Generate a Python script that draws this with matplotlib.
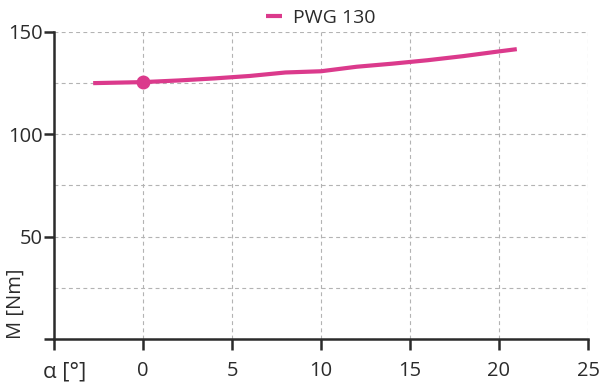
import numpy as np
import matplotlib.pyplot as plt

plt.rcParams['font.family'] = ['Open Sans', 'DejaVu Sans']

# PWG 130 torque curve
alpha = [-2.8, 0, 2, 4, 6, 8, 10, 12, 14, 16, 18, 20, 21]
torque = [125.0, 125.5, 126.3, 127.3, 128.5, 130.2, 130.8, 133.0, 134.5, 136.2, 138.2, 140.5, 141.6]
marker_x = [0]
marker_y = [125.5]
series_name = 'PWG 130'

pink = '#DB3A8C'
dark = '#2b2b2b'

fig = plt.figure(figsize=(6, 3.85), dpi=100)
ax = fig.add_axes([0.09, 0.1195, 0.89, 0.7975])

ax.plot(alpha, torque, color=pink, lw=3, solid_capstyle='butt', label=series_name)
ax.plot(marker_x, marker_y, 'o', color=pink, ms=9)

ax.set_xlim(-5, 25)
ax.set_ylim(0, 150)
ax.set_xticks([-5, 0, 5, 10, 15, 20, 25])
ax.set_xticklabels(['', '0', '5', '10', '15', '20', '25'])
ax.set_yticks([0, 50, 100, 150])
ax.set_yticklabels(['', '50', '100', '150'])
ax.set_yticks([25, 75, 125], minor=True)
ax.tick_params(axis='y', which='minor', length=0)

ax.grid(True, which='both', ls=(0, (3.5, 3)), color='#b3b3b3', lw=0.8)
ax.grid(False, axis='x', which='minor')
ax.set_axisbelow(True)

for s in ['top', 'right']:
    ax.spines[s].set_visible(False)
for s in ['left', 'bottom']:
    ax.spines[s].set_color(dark)
    ax.spines[s].set_linewidth(1.8)
ax.tick_params(axis='x', length=8, width=1.8, color=dark, labelsize=14.5, pad=8, labelcolor=dark)
ax.tick_params(axis='y', which='major', length=7, width=1.8, color=dark, labelsize=14.5, pad=1, labelcolor=dark)

fig.text(0.072, 0.035, 'α [°]', fontsize=16, color=dark, ha='left', va='center')
fig.text(0.027, 0.12, 'M [Nm]', fontsize=14.5, color=dark, rotation=90, ha='center', va='bottom')

ax.legend(loc='lower center', bbox_to_anchor=(0.5, 0.985), frameon=False, fontsize=14,
          handlelength=0.8, handletextpad=0.6, borderpad=0, labelcolor=dark)

fig.savefig('out.png', dpi=100)
